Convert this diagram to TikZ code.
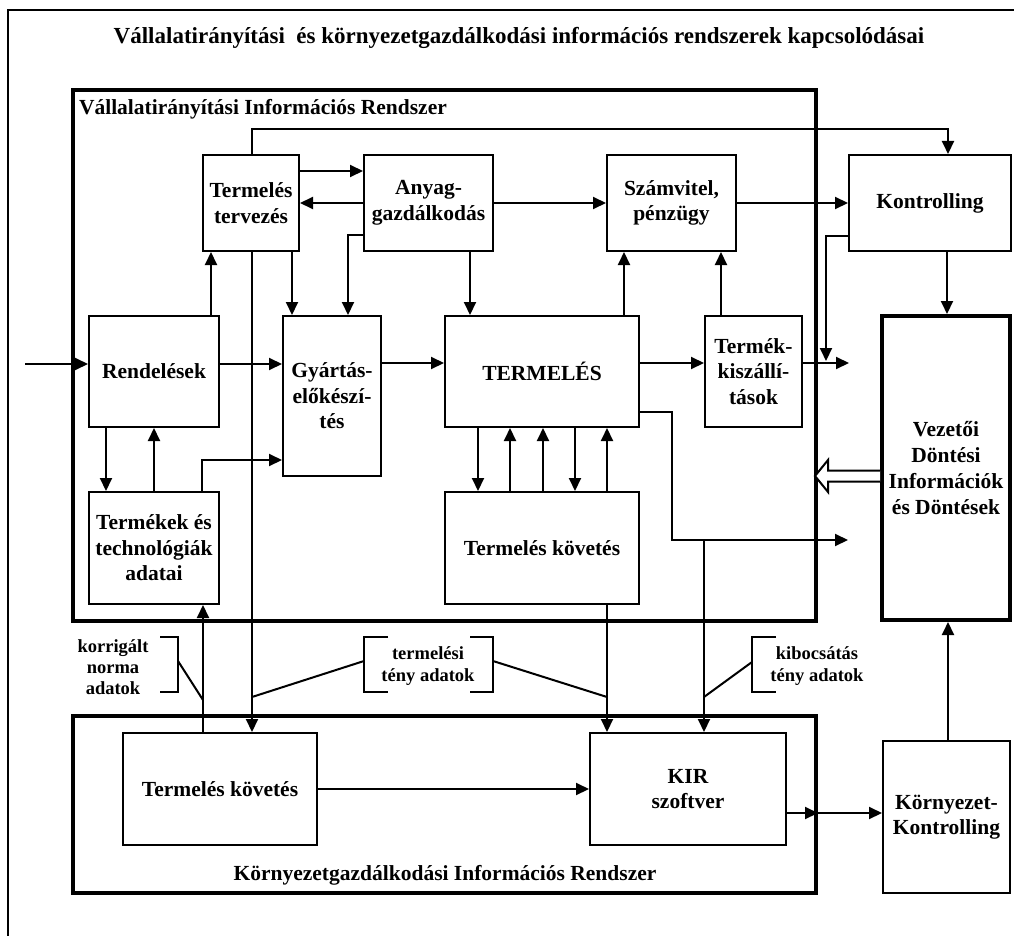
\documentclass[tikz,border=0pt]{standalone}
\usepackage{fontspec}
\setmainfont{Liberation Serif}
\usetikzlibrary{arrows.meta}
\begin{document}
\begin{tikzpicture}[x=1pt,y=-1pt,line width=2pt,
  box/.style={draw,line width=2pt,align=center,inner sep=0pt,
    font=\bfseries\fontsize{21.5}{25.5}\selectfont},
  sz/.style 2 args={minimum width=#1pt,minimum height=#2pt},
  frame/.style={draw,line width=4pt,inner sep=0pt},
  arr/.style={line width=2pt,-{Triangle[length=13pt,width=12pt]}},
  note/.style={align=center,inner sep=0pt,font=\bfseries\fontsize{18.5}{22}\selectfont},
  lead/.style={line width=2pt}]
\useasboundingbox (0,0) rectangle (1014,936);

% outer frame (open to the right and bottom)
\draw[line width=2pt] (8,936) -- (8,10) -- (1014,10);
\node[font=\bfseries\fontsize{23}{27}\selectfont] (title) at (519,38)
  {Vállalatirányítási\ \ és környezetgazdálkodási információs rendszerek kapcsolódásai};

% system frames
\node[frame,sz={743}{531}] (vir) at (444.5,355.5) {};
\node[frame,sz={743}{177}] (kirf) at (444.5,804.5) {};
\node[anchor=west,inner sep=0pt,font=\bfseries\fontsize{21.5}{25}\selectfont] (virlabel) at (78,109)
  {Vállalatirányítási Információs Rendszer};
\node[inner sep=0pt,font=\bfseries\fontsize{21.5}{25}\selectfont] (kirlabel) at (445,875)
  {Környezetgazdálkodási Információs Rendszer};

% blocks
\node[box,sz={96}{96}] (tt) at (251,203) {Termelés\\tervezés};
\node[box,sz={129}{96}] (anyag) at (428.5,203) {Anyag-\\gazdálkodás};
\node[box,sz={129}{96}] (szam) at (671.5,203) {Számvitel,\\pénzügy};
\node[box,sz={162}{96}] (kontr) at (930,203) {Kontrolling};
\node[box,sz={130}{111}] (rend) at (154,371.5) {Rendelések};
\node[box,sz={98}{160}] (gyart) at (332,396) {Gyártás-\\előkészí-\\tés};
\node[box,sz={194}{111}] (term) at (542,371.5) {TERMELÉS};
\node[box,sz={97}{111}] (tk) at (753.5,371.5) {Termék-\\kiszállí-\\tások};
\node[box,line width=4pt,sz={128}{304},font=\bfseries\fontsize{21.5}{26}\selectfont] (vdi) at (946,468)
  {Vezetői\\Döntési\\Információk\\és Döntések};
\node[box,sz={130}{112}] (termek) at (154,548) {Termékek és\\technológiák\\adatai};
\node[box,sz={194}{112}] (tkov) at (542,548) {Termelés követés};
\node[box,sz={194}{112}] (btkov) at (220,789) {Termelés követés};
\node[box,sz={196}{112}] (kir) at (688,789) {KIR\\szoftver};
\node[box,sz={127}{152}] (kk) at (946.5,817) {Környezet-\\Kontrolling};

% free ends and bends
\coordinate (in) at (25,364);
\coordinate (tkout) at (849,363);
\coordinate (kdrop) at (826,361);
\coordinate (bend) at (672,540);
\coordinate (tap) at (704,540);
\coordinate (tout) at (848,540);

% connectors
\draw[arr] (in) -- (in -| rend.west);
\draw[arr] ([xshift=57pt]rend.north) -- ([xshift=-40pt]tt.south);
\draw[arr] ([yshift=32pt]tt.east) -- ([yshift=32pt]anyag.west);
\draw[arr] (anyag.west) -- (tt.east);
\draw[arr] ([xshift=41pt]tt.south) -- ([xshift=-40pt]gyart.north);
\draw[arr] ([yshift=-32pt]anyag.west) -| ([xshift=16pt]gyart.north);
\draw[arr] ([yshift=7.5pt]rend.east) -- ([yshift=7.5pt]rend.east -| gyart.west);
\draw[arr] ([yshift=33pt]gyart.east) -- ([yshift=33pt]gyart.east -| term.west);
\draw[arr] ([yshift=8.5pt]term.east) -- ([yshift=8.5pt]term.east -| tk.west);
\draw[arr] ([yshift=8.5pt]tk.east) -- (tkout);
\draw[arr] ([xshift=41.5pt]anyag.south) -- ([xshift=41.5pt]anyag.south |- term.north);
\draw[arr] ([xshift=82pt]term.north) -- ([xshift=82pt]term.north |- szam.south);
\draw[arr] ([xshift=-32.5pt]tk.north) -- ([xshift=-32.5pt]tk.north |- szam.south);
\draw[arr] (anyag.east) -- (szam.west);
\draw[arr] (szam.east) -- (kontr.west);
\draw[arr] ([xshift=17pt]kontr.south) -- ([xshift=17pt]kontr.south |- vdi.north);
\draw[arr] ([xshift=1pt]tt.north) -- ++(0,-25) -| ([xshift=18pt]kontr.north);
\draw[arr] ([xshift=1pt]tt.south) -- ([xshift=1pt]tt.south |- btkov.north);
\draw[arr] ([yshift=-33pt]kontr.west) -| (kdrop);
\draw[arr] ([xshift=-48pt]rend.south) -- ([xshift=-48pt]rend.south |- termek.north);
\draw[arr] (termek.north) -- (rend.south);
\draw[arr] ([xshift=48pt]termek.north) |- ([yshift=-64pt]gyart.west);
\draw[arr] ([xshift=-17pt]btkov.north) -- ([xshift=-17pt]btkov.north |- termek.south);
\draw[arr] ([xshift=-64pt]term.south) -- ([xshift=-64pt]tkov.north);
\draw[arr] ([xshift=-32pt]tkov.north) -- ([xshift=-32pt]term.south);
\draw[arr] ([xshift=1pt]tkov.north) -- ([xshift=1pt]term.south);
\draw[arr] ([xshift=33pt]term.south) -- ([xshift=33pt]tkov.north);
\draw[arr] ([xshift=65pt]tkov.north) -- ([xshift=65pt]term.south);
\draw[arr] ([yshift=-40.5pt]term.east) -| (bend) -- (tout);
\draw[arr] (tap) -- ([xshift=16pt]kir.north);
\draw[arr] ([xshift=65pt]tkov.south) -- ([xshift=-81pt]kir.north);
\draw[arr] (btkov.east) -- (kir.west);
\draw[arr] ([yshift=-24pt]kir.east) -- ([yshift=-24pt]kir.east -| kirf.east);
\draw[arr] ([yshift=-24pt]kir.east -| kirf.east) -- ([yshift=4pt]kk.west);
\draw[arr] ([xshift=1.5pt]kk.north) -- ([xshift=1.5pt]kk.north |- vdi.south);

% hollow arrow from the decision block back to the company system
\draw[line width=2pt,fill=white,line join=miter] ([yshift=-2.5pt]vdi.west) -- ++(-52,0) -- ++(0,-10.5)
  -- ++(-13,16) -- ++(13,16) -- ++(0,-10.5) -- ++(52,0);

% data annotations with brackets and leaders
\node[note,font=\bfseries\fontsize{18.5}{21}\selectfont] (korr) at (113,667) {korrigált\\norma\\adatok};
\draw[lead] (160,637) -- (178,637) -- (178,692) -- (160,692);
\draw[lead] (178,661) -- (203,700);

\node[note] (tteny) at (428,666) {termelési\\tény adatok};
\draw[lead] (388,637) -- (364,637) -- (364,692) -- (388,692);
\draw[lead] (470,637) -- (493,637) -- (493,692) -- (470,692);
\draw[lead] (364,661) -- (252,697);
\draw[lead] (493,661) -- (607,697);

\node[note] (kteny) at (817,666) {kibocsátás\\tény adatok};
\draw[lead] (776,637) -- (752,637) -- (752,692) -- (776,692);
\draw[lead] (752,662) -- (704,697);
\end{tikzpicture}
\end{document}
